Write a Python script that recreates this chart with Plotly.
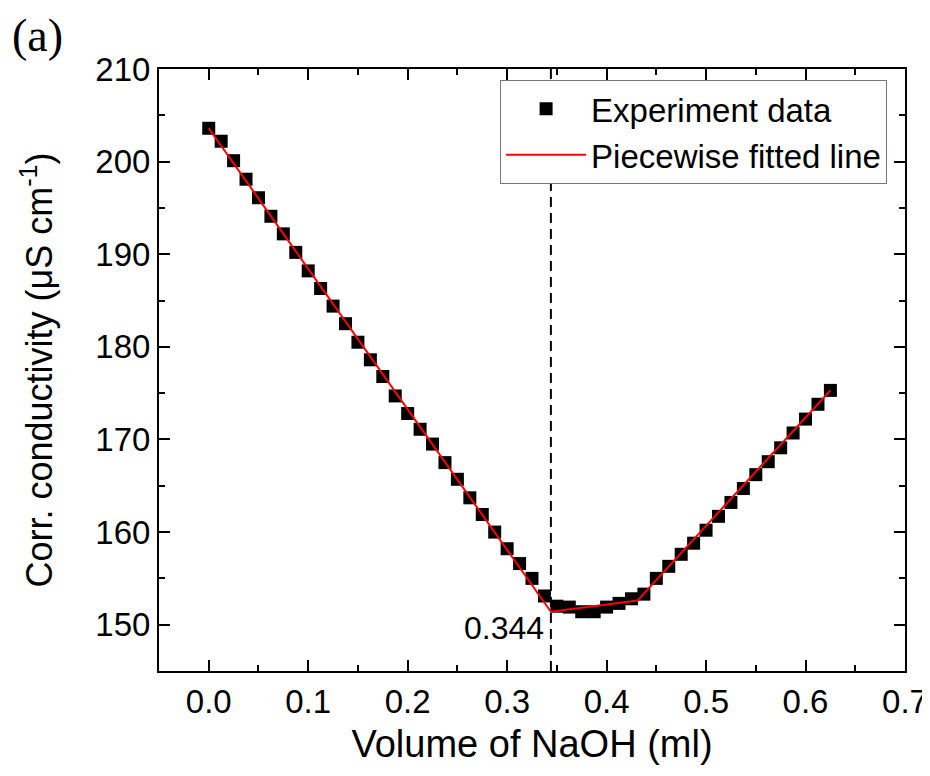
import plotly.graph_objects as go

# Experimental data (Volume of NaOH in ml, corrected conductivity in uS/cm)
volume = [0.0, 0.0125, 0.025, 0.0375, 0.05, 0.0625, 0.075, 0.0875, 0.1, 0.1125,
          0.125, 0.1375, 0.15, 0.1625, 0.175, 0.1875, 0.2, 0.2125, 0.225, 0.2375,
          0.25, 0.2625, 0.275, 0.2875, 0.3, 0.3125, 0.325, 0.3375, 0.35, 0.3625,
          0.375, 0.3875, 0.4, 0.4125, 0.425, 0.4375, 0.45, 0.4625, 0.475, 0.4875,
          0.5, 0.5125, 0.525, 0.5375, 0.55, 0.5625, 0.575, 0.5875, 0.6, 0.6125, 0.625]
conductivity = [203.6, 202.2, 200.1, 198.1, 196.1, 194.1, 192.2, 190.2, 188.2, 186.3,
                184.4, 182.5, 180.5, 178.6, 176.8, 174.7, 172.8, 171.1, 169.5, 167.5,
                165.7, 163.7, 161.9, 160.0, 158.2, 156.6, 155.0, 153.1, 152.0, 151.9,
                151.4, 151.4, 151.9, 152.3, 152.8, 153.3, 155.0, 156.3, 157.6, 158.8,
                160.2, 161.7, 163.2, 164.7, 166.2, 167.6, 169.1, 170.7, 172.2, 173.8, 175.3]

# Piecewise fitted line breakpoints
fit_x = [0.0, 0.344, 0.431, 0.625]
fit_y = [203.6, 151.4, 152.6, 175.3]

endpoint = 0.344
endpoint_label = "0.344"

FONT = "Liberation Sans, Arial, sans-serif"

fig = go.Figure()
fig.add_trace(go.Scatter(
    x=volume, y=conductivity, mode="markers", name="Experiment data",
    marker=dict(symbol="square", size=13, color="black", line=dict(width=0)),
))
fig.add_trace(go.Scatter(
    x=fit_x, y=fit_y, mode="lines", name="Piecewise fitted line",
    line=dict(color="#ff0000", width=2),
))

fig.add_shape(type="line", xref="x", yref="paper", x0=endpoint, x1=endpoint, y0=0, y1=1,
              line=dict(color="black", width=2, dash="10px,6px"), layer="below")
fig.add_annotation(x=endpoint, y=149.6, xref="x", yref="y", text=endpoint_label,
                   showarrow=False, xanchor="right", yanchor="middle", xshift=-5,
                   font=dict(family=FONT, size=32, color="black"))
fig.add_annotation(x=-0.2, y=1.055, xref="paper", yref="paper", text="(a)",
                   showarrow=False, xanchor="left", yanchor="middle",
                   font=dict(family="Liberation Serif, Times New Roman, serif",
                             size=46, color="black"))

axis_common = dict(
    showline=True, linecolor="black", linewidth=2, mirror="allticks",
    ticks="inside", ticklen=11, tickwidth=2, tickcolor="black",
    showgrid=False, zeroline=False, automargin=False,
    tickfont=dict(family=FONT, size=33, color="black"),
)

fig.update_xaxes(
    range=[-0.05, 0.7], tick0=0, dtick=0.1, tickformat=".1f",
    minor=dict(ticks="inside", ticklen=6, tickwidth=2, tickcolor="black", dtick=0.05, tick0=0, showgrid=False),
    title=dict(text="Volume of NaOH (ml)", font=dict(family=FONT, size=38, color="black"), standoff=12),
    **axis_common,
)
fig.update_yaxes(
    range=[145, 210], tick0=150, dtick=10,
    minor=dict(ticks="inside", ticklen=6, tickwidth=2, tickcolor="black", dtick=5, tick0=145, showgrid=False),
    title=dict(text="Corr. conductivity (μS cm<sup>-1</sup>)", font=dict(family=FONT, size=36, color="black"), standoff=32),
    **axis_common,
)

fig.update_layout(
    width=922, height=768,
    margin=dict(l=151, r=25, t=61, b=105),
    paper_bgcolor="white", plot_bgcolor="white",
    showlegend=True,
    legend=dict(x=0.976, y=0.982, xanchor="right", yanchor="top",
                bgcolor="white", bordercolor="#777777", borderwidth=1,
                font=dict(family=FONT, size=33, color="black"),
                itemwidth=80, tracegroupgap=0),
)

fig.write_html("out.html")
